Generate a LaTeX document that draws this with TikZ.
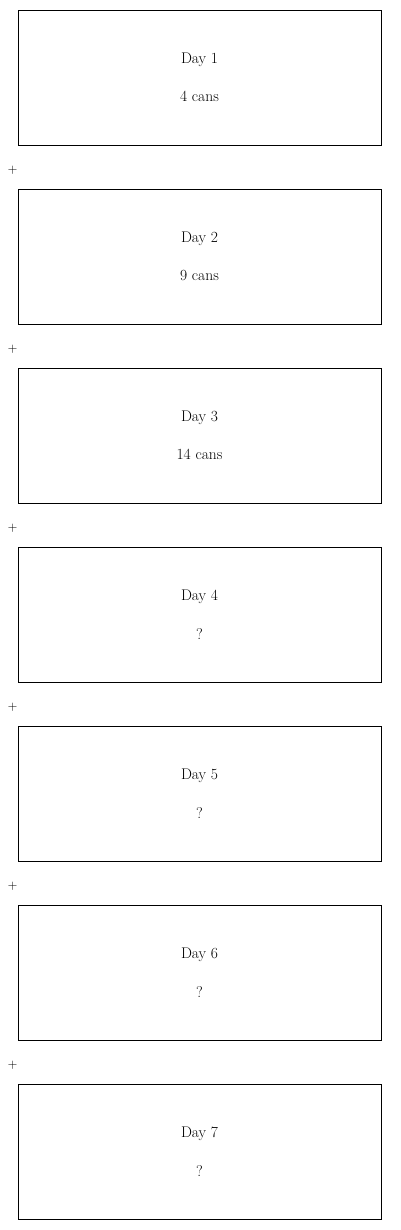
\documentclass[tikz,border=0pt]{standalone}
\usepackage{tikz}

\begin{document}
\begin{tikzpicture}
[x=1pt,y=-1pt,%
  dayBox/.style={shape=rectangle,draw,line width=0.9pt,minimum width=363pt,minimum height=135pt,inner sep=0pt,align=center,font=\fontsize{15.5}{38.5}\selectfont},%
  plusSign/.style={inner sep=0pt,font=\sffamily\fontsize{13}{15}\selectfont}]
\useasboundingbox (0,0) rectangle (400,1230);
%% day boxes
\foreach \daynum/\cans in {1/4 cans, 2/9 cans, 3/14 cans, 4/?, 5/?, 6/?, 7/?}
{
  \node (day\daynum) at (199.5,{77.5+179*(\daynum-1)}) [dayBox] {Day \daynum\\\cans};
}
%% plus signs between the boxes
\foreach \plusnum in {1,...,6}
{
  \node (plus\plusnum) at (12.5,{170+179*(\plusnum-1)}) [plusSign] {+};
}
\end{tikzpicture}
\end{document}
